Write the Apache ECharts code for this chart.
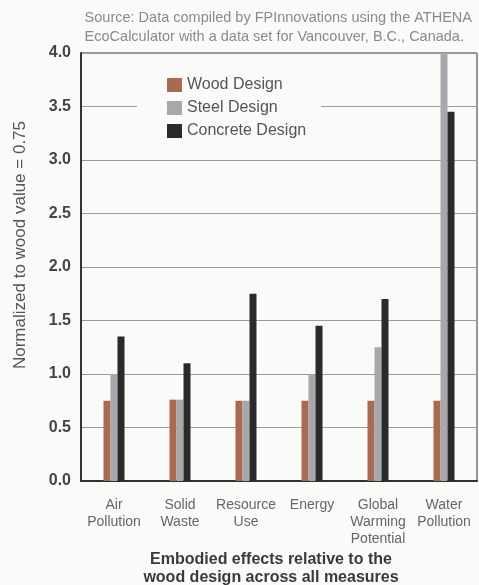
<!DOCTYPE html>
<html>
<head>
<meta charset="utf-8">
<script src="https://cdn.jsdelivr.net/npm/echarts@6/dist/echarts.min.js"></script>
<style>
  html, body { margin: 0; padding: 0; background: #fafaf8; }
  #chart { width: 479px; height: 585px; }
</style>
</head>
<body>
<div id="chart"></div>
<script>
// categories and values
const categories = ['Air\nPollution', 'Solid\nWaste', 'Resource\nUse', 'Energy', 'Global\nWarming\nPotential', 'Water\nPollution']
const woodDesign = [0.75, 0.76, 0.75, 0.75, 0.75, 0.75]
const steelDesign = [1.0, 0.76, 0.75, 1.0, 1.25, 4.6]   // water bar runs off the top
const concreteDesign = [1.35, 1.1, 1.75, 1.45, 1.7, 3.45]
const seriesNames = ['Wood Design', 'Steel Design', 'Concrete Design']

const chart = echarts.init(document.getElementById('chart'))
const baseFont = '"Liberation Sans", Arial, sans-serif'

chart.setOption({
  animation: false,
  textStyle: { fontFamily: baseFont },
  title: [
    {
      text: 'Source: Data compiled by FPInnovations using the ATHENA\nEcoCalculator with a data set for Vancouver, B.C., Canada.',
      right: 2, top: 3,
      textStyle: { fontSize: 14.5, fontWeight: 'normal', color: '#8a8a8a', lineHeight: 19, fontFamily: baseFont }
    },
    {
      text: 'Embodied effects relative to the\nwood design across all measures',
      left: 266, top: 546, textAlign: 'center',
      textStyle: { fontSize: 16, fontWeight: 'bold', color: '#3a3a3a', lineHeight: 18, fontFamily: baseFont }
    }
  ],
  legend: {
    orient: 'vertical',
    left: 137, top: 66,
    padding: [11, 15, 10, 30],
    itemWidth: 15, itemHeight: 14, itemGap: 7,
    icon: 'rect',
    backgroundColor: '#fafaf8',
    textStyle: { fontSize: 16, color: '#555', fontFamily: baseFont },
    data: seriesNames
  },
  grid: {
    left: 81, right: 2, top: 53, bottom: 104,
    show: true, borderColor: '#333', borderWidth: 1
  },
  xAxis: {
    type: 'category',
    data: categories,
    axisLine: { lineStyle: { color: '#333', width: 2 } },
    axisTick: { alignWithLabel: true, length: 5, lineStyle: { color: '#888' } },
    axisLabel: { fontSize: 14, color: '#666', lineHeight: 17, margin: 16, fontFamily: baseFont, interval: 0 }
  },
  yAxis: {
    type: 'value',
    min: 0, max: 4, interval: 0.5,
    name: 'Normalized to wood value = 0.75',
    nameLocation: 'middle',
    nameGap: 52,
    nameTextStyle: { fontSize: 17, color: '#555', fontFamily: baseFont, padding: [0, 0, 0, 44] },
    axisLine: { show: true, lineStyle: { color: '#333', width: 2 } },
    axisTick: { show: false },
    axisLabel: {
      fontSize: 16, fontWeight: 'bold', color: '#444', margin: 10,
      formatter: v => v.toFixed(1)
    },
    splitLine: { lineStyle: { color: '#9a9a9a', width: 1 } }
  },
  series: [
    { name: seriesNames[0], type: 'bar', data: woodDesign, barWidth: 7, barGap: '0%', itemStyle: { color: '#a86b50' } },
    { name: seriesNames[1], type: 'bar', data: steelDesign, barWidth: 7, barGap: '0%', itemStyle: { color: '#a7a7ad' } },
    { name: seriesNames[2], type: 'bar', data: concreteDesign, barWidth: 7, barGap: '0%', itemStyle: { color: '#2a2a2a' } }
  ]
})
</script>
</body>
</html>
